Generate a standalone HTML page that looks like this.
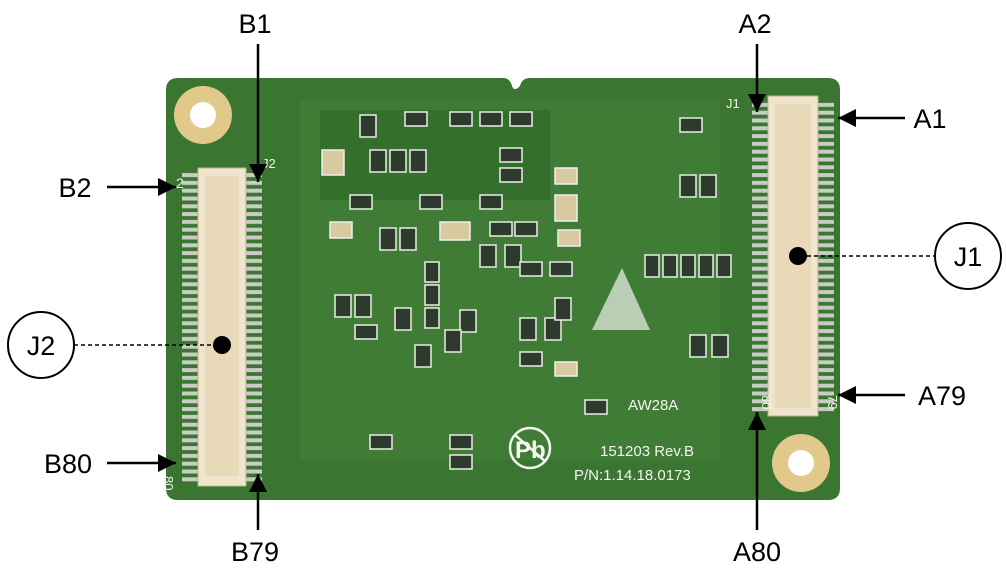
<!DOCTYPE html>
<html><head><style>
html,body{margin:0;padding:0;background:#fff;}
svg{display:block;}
text{font-family:"Liberation Sans",Arial,sans-serif;}
</style></head><body>
<svg width="1006" height="575" viewBox="0 0 1006 575" xmlns="http://www.w3.org/2000/svg">
<defs>
<pattern id="pinsL" x="0" y="0" width="14" height="7.8" patternUnits="userSpaceOnUse">
<rect x="0" y="1.5" width="14" height="4" fill="#c8ccc4"/>
</pattern>
<marker id="ahb" viewBox="0 0 10 10" markerWidth="22" markerHeight="18" refX="10" refY="5" orient="auto" markerUnits="userSpaceOnUse">
<path d="M0,0 L10,5 L0,10 z" fill="#000"/>
</marker>
</defs>
<path d="M178,78 H503 Q510,78 512,86 Q514,92 520,86 Q522,78 530,78 H828 Q840,78 840,90 V488 Q840,500 828,500 H178 Q166,500 166,488 V90 Q166,78 178,78 Z" fill="#3a7631"/>
<rect x="300" y="100" width="420" height="360" fill="#44803a" opacity="0.6"/>
<rect x="320" y="110" width="230" height="90" fill="#2f6a2a" opacity="0.7"/>
<g fill="#2e3a2e" stroke="#e8efe4" stroke-width="1.5">
<rect x="360" y="115" width="16" height="22"/><rect x="405" y="112" width="22" height="14"/><rect x="450" y="112" width="22" height="14"/><rect x="480" y="112" width="22" height="14"/><rect x="510" y="112" width="22" height="14"/>
<rect x="370" y="150" width="16" height="22"/><rect x="390" y="150" width="16" height="22"/><rect x="410" y="150" width="16" height="22"/><rect x="500" y="148" width="22" height="14"/><rect x="500" y="168" width="22" height="14"/>
<rect x="350" y="195" width="22" height="14"/><rect x="420" y="195" width="22" height="14"/><rect x="480" y="195" width="22" height="14"/>
<rect x="380" y="228" width="16" height="22"/><rect x="400" y="228" width="16" height="22"/><rect x="490" y="222" width="22" height="14"/><rect x="515" y="222" width="22" height="14"/>
<rect x="480" y="245" width="16" height="22"/><rect x="505" y="245" width="16" height="22"/><rect x="425" y="262" width="14" height="20"/><rect x="425" y="285" width="14" height="20"/><rect x="425" y="308" width="14" height="20"/>
<rect x="520" y="262" width="22" height="14"/><rect x="550" y="262" width="22" height="14"/><rect x="335" y="295" width="16" height="22"/><rect x="355" y="295" width="16" height="22"/>
<rect x="395" y="308" width="16" height="22"/><rect x="460" y="310" width="16" height="22"/><rect x="520" y="318" width="16" height="22"/><rect x="545" y="318" width="16" height="22"/><rect x="555" y="298" width="16" height="22"/>
<rect x="355" y="325" width="22" height="14"/><rect x="445" y="330" width="16" height="22"/><rect x="415" y="345" width="16" height="22"/><rect x="520" y="352" width="22" height="14"/><rect x="585" y="400" width="22" height="14"/>
<rect x="680" y="118" width="22" height="14"/><rect x="680" y="175" width="16" height="22"/><rect x="700" y="175" width="16" height="22"/>
<rect x="645" y="255" width="14" height="22"/><rect x="663" y="255" width="14" height="22"/><rect x="681" y="255" width="14" height="22"/><rect x="699" y="255" width="14" height="22"/><rect x="717" y="255" width="14" height="22"/>
<rect x="690" y="335" width="16" height="22"/><rect x="712" y="335" width="16" height="22"/><rect x="370" y="435" width="22" height="14"/><rect x="450" y="435" width="22" height="14"/><rect x="450" y="455" width="22" height="14"/>
</g>
<g fill="#d9c9a0" stroke="#eee" stroke-width="1.5">
<rect x="322" y="150" width="22" height="25"/><rect x="330" y="222" width="22" height="16"/><rect x="440" y="222" width="30" height="18"/><rect x="555" y="168" width="22" height="16"/><rect x="555" y="195" width="22" height="26"/><rect x="558" y="230" width="22" height="16"/><rect x="555" y="362" width="22" height="14"/>
</g>
<path d="M622,268 L650,330 L592,330 Z" fill="#d8e2d4" opacity="0.8"/>
<circle cx="203" cy="115" r="29" fill="#e0c98a"/><circle cx="203" cy="115" r="13" fill="#fff"/>
<circle cx="801" cy="463" r="29" fill="#e0c98a"/><circle cx="801" cy="463" r="13" fill="#fff"/>
<rect x="182" y="172" width="80" height="310" fill="url(#pinsL)"/>
<rect x="198" y="168" width="48" height="318" fill="#efe5cc" stroke="#bfb38f" stroke-width="1"/>
<rect x="205" y="176" width="34" height="300" fill="#e8dab8"/>
<rect x="752" y="100" width="82" height="312" fill="url(#pinsL)"/>
<rect x="768" y="96" width="50" height="320" fill="#efe5cc" stroke="#bfb38f" stroke-width="1"/>
<rect x="775" y="104" width="36" height="304" fill="#e8dab8"/>
<g fill="#eef4ea" font-size="13">
<text x="262" y="168">J2</text><text x="726" y="108">J1</text>
<text x="176" y="188" font-size="14">2</text>
<text x="188" y="488" transform="rotate(90 182 470)">80</text>
<text x="823" y="400" transform="rotate(90 828 400)">79</text>
<text x="752" y="395" transform="rotate(90 757 400)">80</text>
</g>
<g fill="#f2f6ee" font-size="15">
<text x="628" y="410">AW28A</text>
<text x="600" y="456">151203  Rev.B</text>
<text x="574" y="480">P/N:1.14.18.0173</text>
</g>
<circle cx="530" cy="448" r="20" fill="none" stroke="#f2f6ee" stroke-width="2.5"/>
<text x="515" y="458" fill="#f2f6ee" font-size="24" font-weight="bold">Pb</text>
<line x1="515" y1="435" x2="546" y2="462" stroke="#f2f6ee" stroke-width="2.5"/>
<g stroke="#000" stroke-width="2.5" fill="none">
<line x1="258" y1="44" x2="258" y2="182" marker-end="url(#ahb)"/>
<line x1="107" y1="187" x2="176" y2="187" marker-end="url(#ahb)"/>
<line x1="107" y1="463" x2="176" y2="463" marker-end="url(#ahb)"/>
<line x1="258" y1="530" x2="258" y2="474" marker-end="url(#ahb)"/>
<line x1="757" y1="44" x2="757" y2="112" marker-end="url(#ahb)"/>
<line x1="905" y1="118" x2="838" y2="118" marker-end="url(#ahb)"/>
<line x1="905" y1="395" x2="838" y2="395" marker-end="url(#ahb)"/>
<line x1="757" y1="530" x2="757" y2="412" marker-end="url(#ahb)"/>
</g>
<g stroke="#000" stroke-width="1.5" stroke-dasharray="4,3">
<line x1="74" y1="345" x2="222" y2="345"/>
<line x1="800" y1="256" x2="935" y2="256"/>
</g>
<circle cx="222" cy="345" r="9" fill="#000"/>
<circle cx="798" cy="256" r="9" fill="#000"/>
<circle cx="41" cy="345" r="33" fill="#fff" stroke="#000" stroke-width="2"/>
<circle cx="968" cy="256" r="33" fill="#fff" stroke="#000" stroke-width="2"/>
<g fill="#000" font-size="27">
<text x="41" y="355" text-anchor="middle">J2</text>
<text x="968" y="266" text-anchor="middle">J1</text>
<text x="255" y="33" text-anchor="middle">B1</text>
<text x="75" y="197" text-anchor="middle">B2</text>
<text x="68" y="473" text-anchor="middle">B80</text>
<text x="255" y="561" text-anchor="middle">B79</text>
<text x="755" y="33" text-anchor="middle">A2</text>
<text x="930" y="128" text-anchor="middle">A1</text>
<text x="942" y="405" text-anchor="middle">A79</text>
<text x="757" y="561" text-anchor="middle">A80</text>
</g>
</svg>
</body></html>
